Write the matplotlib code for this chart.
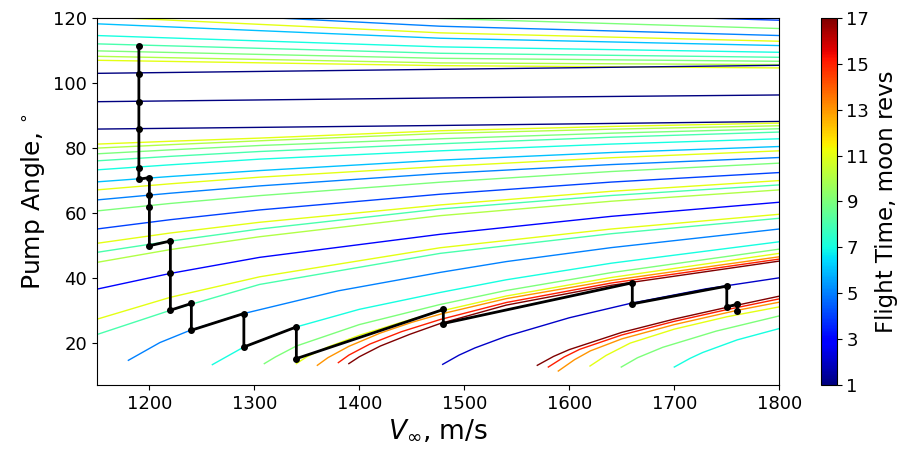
import matplotlib
matplotlib.use("Agg")
import matplotlib.pyplot as plt
from matplotlib import cm
from matplotlib.colors import Normalize

# flight time of each curve (moon revs), colour on the jet scale
# upper family: nearly straight lines, sampled at three V_inf values
upper_v = [1150, 1477, 1800]
upper_times = [4, 9, 5, 11, 6, 7, 8, 9, 10, 11, 1, 1, 1]
upper_angles = [
    [127.5, 122.3, 119.32],
    [124.6, 119.85, 116.76],
    [122.8, 117.47, 114.6],
    [120.4, 115.43, 112.84],
    [118.21, 113.77, 111.51],
    [114.6, 111.11, 109.44],
    [112.04, 109.14, 107.9],
    [109.88, 107.59, 106.67],
    [108.21, 106.17, 105.65],
    [106.98, 105.34, 104.63],
    [102.96, 104.2, 105.43],
    [94.23, 95.37, 96.30],
    [85.80, 86.91, 88.15],
]

# lower family: rising curves that cross the whole plot
lower_v = [1150, 1220, 1305, 1477, 1640, 1800]
lower_times = [11, 10, 9, 8, 7, 6, 11, 5, 9, 4, 11, 8, 10, 3, 11, 8]
lower_angles = [
    [81.17, 82.05, 83.02, 85.28, 86.61, 87.65],
    [79.94, 81.0, 82.19, 84.44, 85.77, 86.82],
    [78.18, 79.4, 80.74, 82.81, 84.54, 85.90],
    [76.02, 77.4, 78.89, 81.27, 83.29, 84.88],
    [73.24, 74.8, 76.54, 79.10, 81.18, 82.81],
    [69.54, 71.2, 73.02, 76.23, 78.58, 80.43],
    [67.07, 68.95, 70.99, 74.26, 76.97, 79.10],
    [63.98, 66.05, 68.30, 72.10, 74.87, 77.04],
    [60.59, 62.9, 65.31, 69.44, 72.73, 75.31],
    [55.03, 57.9, 60.90, 65.74, 69.48, 72.41],
    [50.62, 53.8, 57.10, 62.44, 66.64, 69.94],
    [47.84, 51.3, 55.03, 61.20, 65.35, 68.61],
    [44.75, 48.7, 52.65, 59.14, 63.58, 67.07],
    [36.51, 41.36, 46.30, 53.40, 58.93, 63.27],
    [27.25, 34.0, 40.31, 49.26, 55.03, 59.57],
    [22.53, 30.0, 37.96, 47.53, 53.58, 58.33],
]

# curves that start at the bottom of the plot (two fans)
fan_times = [5, 7, 9, 11, 13, 15, 17, 2, 17, 15, 13, 11, 9, 7]
fan_v = [
    [1180, 1210, 1239, 1290, 1380, 1477, 1540, 1640, 1800],
    [1260, 1290, 1305, 1340, 1400, 1477, 1540, 1640, 1800],
    [1309.5, 1320, 1340, 1400, 1477, 1540, 1640, 1800],
    [1340, 1350, 1370, 1400, 1440, 1477, 1540, 1640, 1800],
    [1360, 1370, 1390, 1420, 1450, 1477, 1540, 1640, 1800],
    [1380, 1390, 1410, 1440, 1477, 1540, 1640, 1800],
    [1390, 1400, 1420, 1448, 1477, 1540, 1640, 1800],
    [1479.4, 1495, 1510, 1540, 1600, 1657.8, 1730, 1800],
    [1569.5, 1585, 1600, 1650, 1700, 1750, 1800],
    [1580, 1595, 1610, 1650, 1700, 1750, 1800],
    [1589.5, 1605, 1620, 1650, 1700, 1760, 1800],
    [1619.7, 1635, 1658, 1700, 1750, 1800],
    [1649.5, 1665, 1689, 1740, 1800],
    [1700, 1715, 1727, 1760, 1800],
]
fan_angles = [
    [14.6, 20.06, 23.86, 29.01, 36.0, 41.67, 45.0, 49.3, 55.03],
    [13.27, 18.7, 20.56, 24.88, 30.3, 35.49, 39.4, 44.5, 51.1],
    [13.58, 15.62, 19.0, 25.6, 31.79, 36.1, 41.6, 48.83],
    [13.58, 15.7, 18.7, 22.3, 26.3, 29.72, 34.4, 40.1, 47.53],
    [13.06, 15.4, 18.9, 23.0, 26.3, 28.8, 33.6, 39.2, 46.48],
    [13.89, 16.2, 19.6, 23.4, 27.16, 32.4, 38.4, 45.77],
    [13.58, 15.7, 19.0, 22.6, 25.93, 31.6, 37.7, 45.15],
    [13.36, 16.2, 18.4, 22.0, 27.7, 32.1, 36.6, 40.0],
    [13.06, 15.8, 17.9, 23.2, 27.3, 30.9, 34.35],
    [12.53, 15.6, 18.0, 22.4, 26.6, 30.2, 33.52],
    [11.3, 14.8, 17.5, 21.2, 25.6, 30.0, 32.5],
    [12.84, 16.1, 19.9, 24.2, 28.0, 31.05],
    [12.53, 15.4, 18.6, 23.6, 28.27],
    [12.53, 15.2, 17.0, 20.9, 24.38],
]

# the flyby sequence (black path)
path_v = [1190, 1190, 1190, 1190, 1190, 1190, 1200, 1200, 1200, 1200, 1220,
          1220, 1220, 1240, 1240, 1290, 1290, 1340, 1340, 1480, 1480, 1660,
          1660, 1750, 1750, 1760, 1760]
path_angle = [111.51, 102.87, 94.14, 85.9, 73.77, 70.37, 70.86, 65.52, 61.73,
              49.88, 51.33, 41.36, 30.03, 32.1, 23.86, 29.01, 18.7, 24.88,
              15.12, 30.25, 25.93, 38.46, 31.98, 37.44, 31.05, 31.88, 29.72]

cmap = plt.get_cmap('jet')
norm = Normalize(vmin=1, vmax=17)

fig = plt.figure(figsize=(9.14, 4.58), dpi=100)
ax = fig.add_axes([0.106, 0.1594, 0.7466, 0.8013])
cax = fig.add_axes([0.898, 0.1594, 0.0175, 0.8013])

for t, ys in zip(upper_times, upper_angles):
    ax.plot(upper_v, ys, color=cmap(norm(t)), lw=1)
for t, ys in zip(lower_times, lower_angles):
    ax.plot(lower_v, ys, color=cmap(norm(t)), lw=1)
for t, xs, ys in zip(fan_times, fan_v, fan_angles):
    ax.plot(xs, ys, color=cmap(norm(t)), lw=1)

ax.plot(path_v, path_angle, color='k', lw=2, marker='o', ms=4)

ax.set_xlim(1150, 1800)
ax.set_ylim(7, 120)
ax.set_xticks(range(1200, 1801, 100))
ax.set_yticks(range(20, 121, 20))
ax.tick_params(labelsize=13)
ax.set_xlabel(r'$V_{\infty}$, m/s', fontsize=19)
ax.set_ylabel('Pump Angle, $^{\circ}$', fontsize=18)

sm = cm.ScalarMappable(norm=norm, cmap=cmap)
cb = fig.colorbar(sm, cax=cax, ticks=range(1, 18, 2))
cb.ax.tick_params(labelsize=13)
cb.set_label('Flight Time, moon revs', fontsize=16.5)

fig.savefig('out.png', dpi=100)
